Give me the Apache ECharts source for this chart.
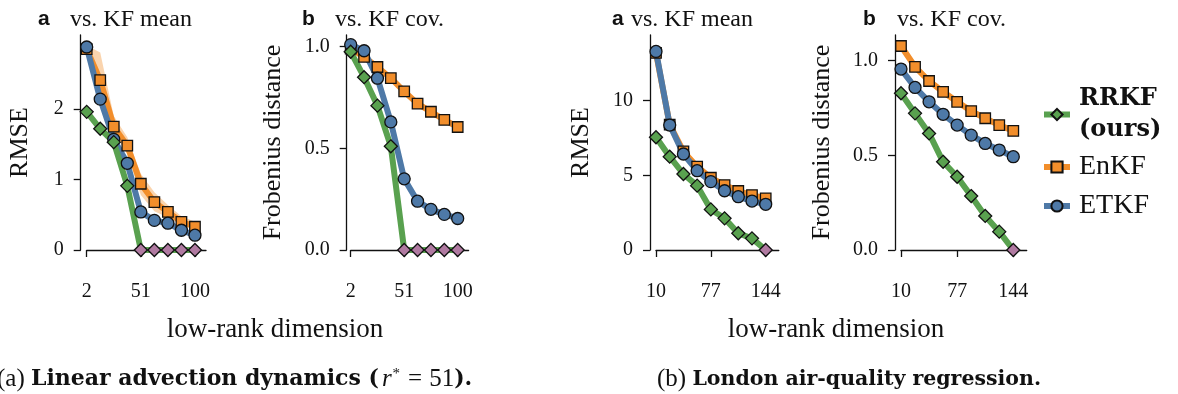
<!DOCTYPE html>
<html>
<head>
<meta charset="utf-8">
<script src="https://cdn.jsdelivr.net/npm/echarts@6/dist/echarts.min.js"></script>
<style>
  html, body { margin: 0; padding: 0; background: #fff; }
  #chart { width: 1178px; height: 394px; }
</style>
</head>
<body>
<div id="chart"></div>
<script>
// low-rank dimensions on the x axis
const dimAdv = [2, 14.25, 26.5, 38.75, 51, 63.25, 75.5, 87.75, 100];
const dimAir = [10, 26.75, 43.5, 60.25, 77, 93.75, 110.5, 127.25, 144];
const xTicksAdv = [2, 51, 100];
const xTicksAir = [10, 77, 144];

// (a) linear advection, vs. KF mean (RMSE)
const advMeanRRKF = [1.96, 1.72, 1.53, 0.91, 0, 0, 0, 0, 0];
const advMeanEnKF = [2.85, 2.41, 1.75, 1.48, 0.94, 0.68, 0.54, 0.40, 0.33];
const advMeanEnKFLo = [2.80, 2.35, 1.68, 1.36, 0.78, 0.55, 0.46, 0.36, 0.29];
const advMeanEnKFHi = [2.90, 2.80, 1.90, 1.60, 1.08, 0.82, 0.64, 0.48, 0.40];
const advMeanETKF = [2.88, 2.14, 1.57, 1.23, 0.54, 0.42, 0.38, 0.28, 0.21];
const advMeanYTicks = [0, 1, 2];

// (a) linear advection, vs. KF cov (Frobenius)
const advCovRRKF = [0.975, 0.85, 0.71, 0.51, 0, 0, 0, 0, 0];
const advCovEnKF = [0.99, 0.95, 0.90, 0.845, 0.78, 0.72, 0.68, 0.64, 0.605];
const advCovETKF = [1.01, 0.98, 0.845, 0.63, 0.35, 0.24, 0.20, 0.175, 0.155];
const advCovYTicks = [0, 0.5, 1];

// (b) London air quality, vs. KF mean (RMSE)
const airMeanRRKF = [7.55, 6.25, 5.09, 4.31, 2.72, 2.12, 1.12, 0.78, 0];
const airMeanEnKF = [13.2, 8.4, 6.6, 5.58, 4.84, 4.35, 3.95, 3.68, 3.46];
const airMeanETKF = [13.3, 8.37, 6.43, 5.31, 4.58, 3.97, 3.57, 3.28, 3.06];
const airMeanYTicks = [0, 5, 10];

// (b) London air quality, vs. KF cov (Frobenius)
const airCovRRKF = [0.828, 0.722, 0.616, 0.466, 0.387, 0.285, 0.18, 0.097, 0];
const airCovEnKF = [1.078, 0.968, 0.893, 0.836, 0.783, 0.734, 0.696, 0.66, 0.629];
const airCovETKF = [0.956, 0.859, 0.783, 0.717, 0.66, 0.607, 0.563, 0.528, 0.493];
const airCovYTicks = [0, 0.5, 1];

const GREEN = '#59a14f', ORANGE = '#f28e2b', BLUE = '#4e79a7', PINK = '#b07aa1';
const INK = '#111';
const SERIF = '"Liberation Serif", "DejaVu Serif", serif';
const SERIF_WIDE = '"DejaVu Serif", "Liberation Serif", serif';
const SANS = '"Liberation Sans", Arial, sans-serif';

const panels = [
  { left: 86.7, width: 119.3, xMin: 2, xMax: 110, xs: dimAdv, xTicks: xTicksAdv, yMax: 3.05,
    yTicks: advMeanYTicks, yFmt: v => String(v), yName: 'RMSE', yOffset: 6, nameGap: 48,
    rrkf: advMeanRRKF, enkf: advMeanEnKF, etkf: advMeanETKF, lo: advMeanEnKFLo, hi: advMeanEnKFHi },
  { left: 350.7, width: 117.9, xMin: 2, xMax: 110, xs: dimAdv, xTicks: xTicksAdv, yMax: 1.0575,
    yTicks: advCovYTicks, yFmt: v => v.toFixed(1), yName: 'Frobenius distance', yOffset: 4, nameGap: 61,
    rrkf: advCovRRKF, enkf: advCovEnKF, etkf: advCovETKF },
  { left: 656, width: 122.8, xMin: 10, xMax: 160, xs: dimAir, xTicks: xTicksAir, yMax: 14.4,
    yTicks: airMeanYTicks, yFmt: v => String(v), yName: 'RMSE', yOffset: 6, nameGap: 56,
    rrkf: airMeanRRKF, enkf: airMeanEnKF, etkf: airMeanETKF },
  { left: 901, width: 125.7, xMin: 10, xMax: 160, xs: dimAir, xTicks: xTicksAir, yMax: 1.136,
    yTicks: airCovYTicks, yFmt: v => v.toFixed(1), yName: 'Frobenius distance', yOffset: 6, nameGap: 60,
    rrkf: airCovRRKF, enkf: airCovEnKF, etkf: airCovETKF },
];

const lineStyleAxis = { color: INK, width: 1.3 };
const grid = [], xAxis = [], yAxis = [], series = [];

panels.forEach((p, i) => {
  grid.push({ left: p.left, top: 35, width: p.width, height: 215, outerBoundsMode: 'none' });
  xAxis.push({
    type: 'value', gridIndex: i, min: p.xMin, max: p.xMax, offset: 10,
    axisLine: { lineStyle: lineStyleAxis }, splitLine: { show: false },
    axisTick: { customValues: p.xTicks, length: 7, lineStyle: lineStyleAxis },
    axisLabel: { customValues: p.xTicks, margin: 22, color: INK, fontFamily: SERIF, fontSize: 20 },
  });
  yAxis.push({
    type: 'value', gridIndex: i, min: 0, max: p.yMax, offset: p.yOffset,
    axisLine: { show: true, lineStyle: lineStyleAxis }, splitLine: { show: false },
    axisTick: { show: true, customValues: p.yTicks, length: 7, lineStyle: lineStyleAxis },
    axisLabel: { customValues: p.yTicks, formatter: p.yFmt, margin: 17, color: INK, fontFamily: SERIF, fontSize: 20 },
    name: p.yName, nameLocation: 'middle', nameGap: p.nameGap, nameRotate: 90,
    nameTextStyle: { color: INK, fontFamily: SERIF, fontSize: 26 },
  });

  const pts = arr => arr.map((v, k) => [p.xs[k], v]);
  const common = { xAxisIndex: i, yAxisIndex: i, clip: false };

  if (p.lo) {
    // shaded spread of the EnKF, drawn as one polygon through the axis scales
    series.push({
      ...common, type: 'custom', name: 'EnKF band', silent: true, data: pts(p.hi),
      renderItem: (params, api) => {
        if (params.dataIndex !== 0) return null;
        const upper = p.hi.map((v, k) => api.coord([p.xs[k], v]));
        const lower = p.lo.map((v, k) => api.coord([p.xs[k], v])).reverse();
        return { type: 'polygon', shape: { points: upper.concat(lower) },
          style: { fill: ORANGE, opacity: 0.38 } };
      },
    });
  }
  series.push({ ...common, type: 'line', name: 'EnKF', data: pts(p.enkf), color: ORANGE,
    lineStyle: { width: 6, color: ORANGE }, symbol: 'rect', symbolSize: 10.5,
    itemStyle: { color: ORANGE, borderColor: INK, borderWidth: 1.3 } });
  series.push({ ...common, type: 'line', name: 'ETKF', data: pts(p.etkf), color: BLUE,
    lineStyle: { width: 6, color: BLUE }, symbol: 'circle', symbolSize: 12,
    itemStyle: { color: BLUE, borderColor: INK, borderWidth: 1.3 } });
  series.push({ ...common, type: 'line', name: 'RRKF', color: GREEN,
    data: p.rrkf.map((v, k) => v === 0
      ? { value: [p.xs[k], v], itemStyle: { color: PINK } }
      : { value: [p.xs[k], v] }),
    lineStyle: { width: 6, color: GREEN }, symbol: 'diamond', symbolSize: 13,
    itemStyle: { color: GREEN, borderColor: INK, borderWidth: 1.3 } });
});

const panelTitles = [
  { tag: 'a', tagX: 33, text: 'vs. KF mean', textX: 65 },
  { tag: 'b', tagX: 297, text: 'vs. KF cov.', textX: 330 },
  { tag: 'a', tagX: 607, text: 'vs. KF mean', textX: 626 },
  { tag: 'b', tagX: 858, text: 'vs. KF cov.', textX: 892 },
];
const title = [];
panelTitles.forEach(t => {
  title.push({ text: t.tag, left: t.tagX, top: 4,
    textStyle: { fontFamily: SANS, fontWeight: 'bold', fontSize: 21, color: INK } });
  title.push({ text: t.text, left: t.textX, top: 3,
    textStyle: { fontFamily: SERIF, fontWeight: 'normal', fontSize: 24, color: INK } });
});
title.push({ text: 'low-rank dimension', left: 270, top: 311, textAlign: 'center',
  textStyle: { fontFamily: SERIF, fontWeight: 'normal', fontSize: 27, color: INK } });
title.push({ text: 'low-rank dimension', left: 831, top: 311, textAlign: 'center',
  textStyle: { fontFamily: SERIF, fontWeight: 'normal', fontSize: 27, color: INK } });

const capRich = {
  n: { fontFamily: SERIF, fontSize: 25, fontWeight: 'normal', color: INK },
  b: { fontFamily: SERIF_WIDE, fontSize: 22, fontWeight: 'bold', color: INK },
  i: { fontFamily: SERIF, fontSize: 25, fontWeight: 'normal', fontStyle: 'italic', color: INK, padding: [0, 0, 0, 3] },
  s: { fontFamily: SERIF, fontSize: 15, fontWeight: 'normal', color: INK, verticalAlign: 'top', padding: [0, 0, 10, 1] },
  e: { fontFamily: SERIF, fontSize: 25, fontWeight: 'normal', color: INK, padding: [0, 7, 0, 8] },
};
title.push({
  text: '{n|(a) }{b|Linear advection dynamics (}{i|r}{s|*}{e|=}{n|51}{b|).}',
  left: -8, top: 362, textStyle: { rich: capRich },
});
title.push({
  text: '{n|(b) }{b|London air-quality regression.}',
  left: 652, top: 362,
  textStyle: { rich: { n: capRich.n, b: { ...capRich.b, fontSize: 20.5 } } },
});

const option = {
  animation: false,
  title,
  grid,
  xAxis,
  yAxis,
  legend: {
    data: ['RRKF', 'EnKF', 'ETKF'],
    orient: 'vertical', left: 1036, top: 82,
    itemWidth: 26, itemHeight: 14, itemGap: 11,
    lineStyle: { width: 6 },
    formatter: name => name === 'RRKF' ? '{b|RRKF}\n{b|(ours)}' : '{n|' + name + '}',
    textStyle: {
      color: INK,
      rich: {
        b: { fontFamily: SERIF_WIDE, fontSize: 24, fontWeight: 'bold', lineHeight: 31, color: INK, padding: [0, 0, 0, 4] },
        n: { fontFamily: SERIF, fontSize: 28, lineHeight: 31, color: INK, padding: [0, 0, 0, 4] },
      },
    },
  },
  series,
};

const chart = echarts.init(document.getElementById('chart'));
chart.setOption(option);
</script>
</body>
</html>
